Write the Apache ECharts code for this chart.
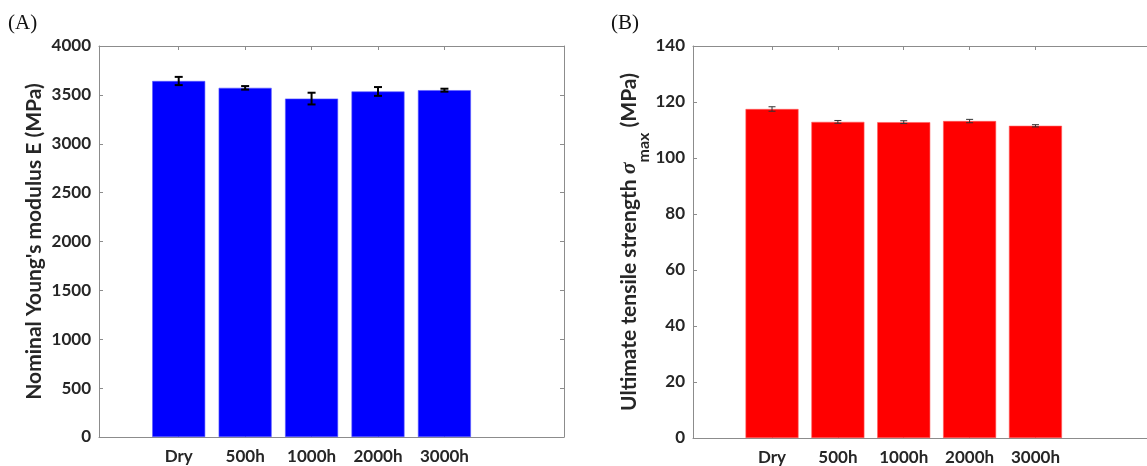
<!DOCTYPE html>
<html>
<head>
<meta charset="utf-8">
<script src="https://cdn.jsdelivr.net/npm/echarts@6/dist/echarts.min.js"></script>
<style>
  html, body { margin: 0; padding: 0; background: #fff; }
</style>
</head>
<body>
<div id="chart" style="width:1147px;height:466px;"></div>
<script>
// bar centres on the x scale (axis runs 0..7)
var categories = ['Dry', '500h', '1000h', '2000h', '3000h']
var catPos = [1.2, 2.2, 3.2, 4.2, 5.2]
// (A) Young's modulus, MPa
var modulus = [3642, 3572, 3462, 3535, 3548]
var modulusErr = [42, 18, 60, 45, 15]
// (B) ultimate tensile strength, MPa
var strength = [117.5, 112.9, 112.8, 113.2, 111.5]
var strengthErr = [0.8, 0.5, 0.5, 0.6, 0.4]

var font = 'Lato'
var txt = '#262626'
var axisGray = '#8c8c8c'

function pairs(vals) {
	return vals.map(function (v, i) { return [catPos[i], v] })
}
function triples(vals, errs) {
	return vals.map(function (v, i) { return [catPos[i], v, errs[i]] })
}
// error bar drawn via axis coords
function errRender(color, lw, cap) {
	return function (params, api) {
		var x = api.value(0), y = api.value(1), e = api.value(2)
		var hi = api.coord([x, y + e])
		var lo = api.coord([x, y - e])
		var st = { stroke: color, lineWidth: lw }
		return {
			type: 'group',
			children: [
				{ type: 'line', shape: { x1: hi[0], y1: hi[1], x2: lo[0], y2: lo[1] }, style: st },
				{ type: 'line', shape: { x1: hi[0] - cap, y1: hi[1], x2: hi[0] + cap, y2: hi[1] }, style: st },
				{ type: 'line', shape: { x1: lo[0] - cap, y1: lo[1], x2: lo[0] + cap, y2: lo[1] }, style: st }
			]
		}
	}
}

function catName(v) {
	for (var i = 0; i < catPos.length; i++) {
		if (Math.abs(catPos[i] - v) < 1e-6) return categories[i]
	}
	return ''
}

function xAxes(gi) {
	var base = {
		type: 'value', gridIndex: gi, min: 0, max: 7,
		axisLine: { show: true, onZero: false, lineStyle: { color: axisGray, width: 1 } },
		splitLine: { show: false },
		axisTick: { show: true, inside: true, length: 4, customValues: catPos, lineStyle: { color: axisGray } }
	}
	var bottom = Object.assign({}, base, {
		position: 'bottom',
		axisLabel: {
			customValues: catPos, margin: 11, formatter: catName,
			fontFamily: font, fontWeight: 'bold', fontSize: 17, color: txt
		}
	})
	var top = Object.assign({}, base, { position: 'top', axisLabel: { show: false } })
	return [bottom, top]
}

function yAxes(gi, max, interval, name, gap, rich) {
	var left = {
		type: 'value', gridIndex: gi, min: 0, max: max, interval: interval, position: 'left',
		name: name, nameLocation: 'middle', nameGap: gap, nameRotate: 90,
		nameTextStyle: { fontFamily: font, fontWeight: 'bold', fontSize: 21, color: txt, rich: rich },
		axisLine: { show: true, onZero: false, lineStyle: { color: axisGray, width: 1 } },
		axisTick: { show: true, inside: true, length: 4, lineStyle: { color: axisGray } },
		splitLine: { show: false },
		axisLabel: {
			fontFamily: font, fontWeight: 'bold', fontSize: 17, color: txt, margin: 8,
			formatter: function (v) { return String(v) }
		}
	}
	var right = {
		type: 'value', gridIndex: gi, min: 0, max: max, interval: interval, position: 'right',
		axisLine: { show: true, onZero: false, lineStyle: { color: axisGray, width: 1 } },
		axisTick: { show: true, inside: true, length: 4, lineStyle: { color: axisGray } },
		splitLine: { show: false },
		axisLabel: { show: false }
	}
	return [left, right]
}

var nameB = '{a|Ultimate tensile strength }{s|σ}{sub|max}{a| (MPa)}'
var richB = {
	a: { fontFamily: font, fontWeight: 'bold', fontSize: 21, color: txt, lineHeight: 24, verticalAlign: 'middle' },
	s: { fontFamily: 'Liberation Serif', fontStyle: 'italic', fontSize: 22, color: txt, lineHeight: 24, verticalAlign: 'middle' },
	sub: { fontFamily: font, fontWeight: 'bold', fontSize: 16, color: txt, lineHeight: 44, verticalAlign: 'bottom' }
}

var myChart = echarts.init(document.getElementById('chart'))
myChart.setOption({
	animation: false,
	backgroundColor: '#ffffff',
	grid: [
		{ left: 99, top: 46, width: 465, height: 391, outerBoundsMode: 'none', containLabel: false },
		{ left: 693, top: 46, width: 461, height: 392, outerBoundsMode: 'none', containLabel: false }
	],
	xAxis: xAxes(0).concat(xAxes(1)),
	yAxis: yAxes(0, 4000, 500, "Nominal Young's modulus E (MPa)", 54, null)
		.concat(yAxes(1, 140, 20, nameB, 38, richB)),
	graphic: [
		{ type: 'text', left: 8, top: 13, style: { text: '(A)', font: '21px "Liberation Serif"', fill: '#111' } },
		{ type: 'text', left: 611, top: 13, style: { text: '(B)', font: '21px "Liberation Serif"', fill: '#111' } }
	],
	series: [{
		name: 'modulus', type: 'bar', xAxisIndex: 0, yAxisIndex: 0,
		data: pairs(modulus), barWidth: 53,
		itemStyle: { color: '#0000ff', borderColor: '#5a5aff', borderWidth: 0.6 }
	}, {
		name: 'modulusErr', type: 'custom', xAxisIndex: 0, yAxisIndex: 0,
		data: triples(modulus, modulusErr), renderItem: errRender('#000', 2, 4), z: 5
	}, {
		name: 'strength', type: 'bar', xAxisIndex: 2, yAxisIndex: 2,
		data: pairs(strength), barWidth: 53,
		itemStyle: { color: '#ff0000', borderColor: '#ff5a5a', borderWidth: 0.6 }
	}, {
		name: 'strengthErr', type: 'custom', xAxisIndex: 2, yAxisIndex: 2,
		data: triples(strength, strengthErr), renderItem: errRender('#333', 1, 3.5), z: 5
	}]
})
</script>
</body>
</html>
